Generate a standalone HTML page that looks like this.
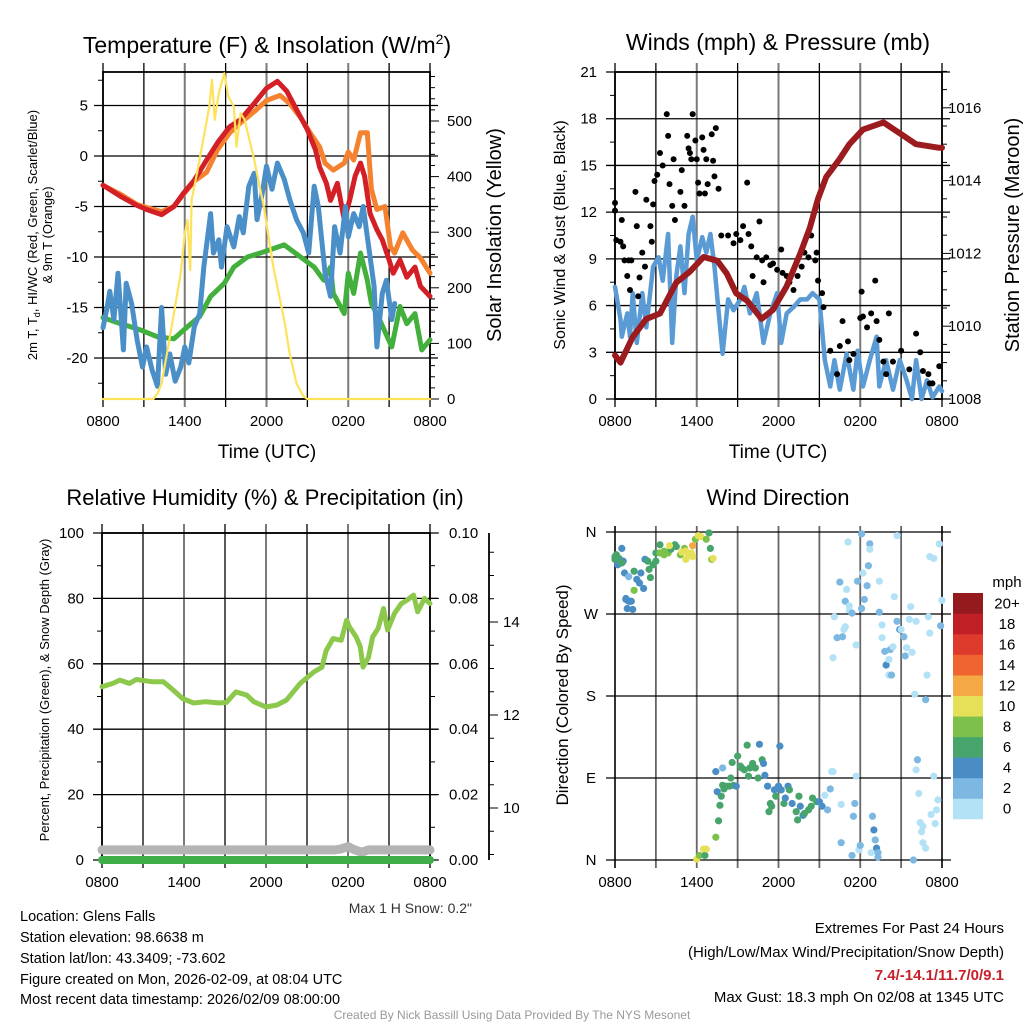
<!DOCTYPE html>
<html><head><meta charset="utf-8"><style>
html,body{margin:0;padding:0;background:#fff;}
svg{display:block;font-family:"Liberation Sans",Arial,sans-serif;}
</style></head><body>
<svg id="fig" width="1024" height="1024" viewBox="0 0 1024 1024" xmlns="http://www.w3.org/2000/svg">
<rect width="1024" height="1024" fill="#fff"/>
<g id="p1"></g>
<g id="p2"></g>
<g id="p3"></g>
<g id="p4"></g>
<text x="267" y="53" font-size="23" text-anchor="middle">Temperature (F) &amp; Insolation (W/m<tspan dy="-9" font-size="14">2</tspan><tspan dy="9">)</tspan></text>
<text x="778" y="50" font-size="23" text-anchor="middle">Winds (mph) &amp; Pressure (mb)</text>
<text x="265" y="505" font-size="22" text-anchor="middle">Relative Humidity (%) &amp; Precipitation (in)</text>
<text x="778" y="505" font-size="22" text-anchor="middle">Wind Direction</text>
<text x="267" y="458" font-size="19" text-anchor="middle">Time (UTC)</text>
<text x="778" y="458" font-size="19" text-anchor="middle">Time (UTC)</text>
<g transform="translate(37,235) rotate(-90)" font-size="13" text-anchor="middle">
<text x="0" y="0">2m T, T<tspan dy="3" font-size="9">d</tspan><tspan dy="-3">, HI/WC (Red, Green, Scarlet/Blue)</tspan></text>
<text x="0" y="15">&amp; 9m T (Orange)</text></g>
<text transform="translate(501,235) rotate(-90)" font-size="20" text-anchor="middle">Solar Insolation (Yellow)</text>
<text transform="translate(565,235) rotate(-90)" font-size="16" text-anchor="middle">Sonic Wind &amp; Gust (Blue, Black)</text>
<text transform="translate(1019,235) rotate(-90)" font-size="20" text-anchor="middle">Station Pressure (Maroon)</text>
<text transform="translate(49,690) rotate(-90)" font-size="13" text-anchor="middle">Percent, Precipitation (Green), &amp; Snow Depth (Gray)</text>
<text transform="translate(568,695) rotate(-90)" font-size="17" text-anchor="middle">Direction (Colored By Speed)</text>
<text x="472" y="913" font-size="14" fill="#333" text-anchor="end">Max 1 H Snow: 0.2"</text>
<g font-size="14.5">
<text x="20" y="921">Location: Glens Falls</text>
<text x="20" y="942">Station elevation: 98.6638 m</text>
<text x="20" y="963">Station lat/lon: 43.3409; -73.602</text>
<text x="20" y="984">Figure created on Mon, 2026-02-09, at 08:04 UTC</text>
<text x="20" y="1004">Most recent data timestamp: 2026/02/09 08:00:00</text>
</g>
<g font-size="15" text-anchor="end">
<text x="1004" y="933">Extremes For Past 24 Hours</text>
<text x="1004" y="957">(High/Low/Max Wind/Precipitation/Snow Depth)</text>
<text x="1004" y="980" fill="#c8202a" font-weight="bold">7.4/-14.1/11.7/0/9.1</text>
<text x="1004" y="1002">Max Gust: 18.3 mph On 02/08 at 1345 UTC</text>
</g>
<text x="512" y="1019" font-size="12" fill="#999" text-anchor="middle">Created By Nick Bassill Using Data Provided By The NYS Mesonet</text>
</svg>
<script>
// ---------- data ----------
const timeLabels = ["0800","1400","2000","0200","0800"];
const tempTicks = [5,0,-5,-10,-15,-20];
const solarTicks = [0,100,200,300,400,500];
const windTicks = [0,3,6,9,12,15,18,21];
const presTicks = [1008,1010,1012,1014,1016];
const rhTicks = [0,20,40,60,80,100];
const precipTicks = ["0.00","0.02","0.04","0.06","0.08","0.10"];
const snowTicks = [10,12,14];
const dirLabels = ["N","E","S","W","N"];
const speedLabels = ["0","2","4","6","8","10","12","14","16","18","20+"];

const tHours = [0,1.3,2.5,3.2,4.3,5.2,5.9,6.7,7.6,8.4,9.3,10.1,11.1,12.0,12.8,13.5,14.2,15.0,15.6,15.9,16.4,16.7,17.2,17.7,18.1,18.5,18.9,19.2,19.6,20.1,20.5,21,21.3,21.8,22.3,22.9,23.3,24];
const tempT = [-2.9,-4.0,-4.9,-5.3,-5.8,-5.0,-3.7,-2.4,-0.4,1.3,2.9,3.6,5.2,6.7,7.4,6.4,4.6,2.6,0.6,-1.1,-2.7,-4.4,-2.7,-6.3,-4.4,-2.0,-0.7,-2.0,-5.7,-7.3,-8.3,-10.3,-11.6,-10.3,-12.0,-11.0,-12.9,-13.9];
const t9Hours = [0,1.3,2.5,3.2,4.3,5.2,5.9,6.7,7.6,8.4,9.3,10.1,11.1,12,13,13.7,14.5,15.2,15.9,16.3,16.9,17.7,18,18.4,18.9,19.4,19.7,20.1,20.7,21.1,21.4,22,22.7,23.3,24];
const temp9m = [-2.9,-3.8,-4.8,-5.1,-5.5,-5.0,-3.8,-2.5,-1.6,0.6,2.3,3.3,4.4,5.5,6.0,5.2,3.8,2.3,0.9,-0.7,-1.4,-0.7,0.4,-0.4,2.3,2.3,-3.3,-5.3,-5.0,-9.0,-9.6,-7.6,-9.3,-10.1,-11.6];
const tdHours = [0,1.3,2.7,4,5.2,6.2,7.1,7.9,8.9,9.6,10.6,11.8,13.3,14.5,15.5,16.2,16.7,16.9,17.7,18,18.4,18.9,19.4,19.7,20.3,21.2,21.8,22.3,22.9,23.4,24];
const dewpoint = [-16,-16.6,-17.2,-17.9,-18.1,-16.9,-15.9,-13.9,-12.6,-11,-10,-9.5,-8.8,-10,-11,-12.3,-11,-13.6,-15.6,-11.6,-13.6,-9.6,-12.3,-14.6,-16.2,-18.9,-14.9,-16.6,-15.6,-19.2,-18.2];
const wcHours = [0,0.3,0.5,0.8,1.1,1.5,1.7,2.1,2.5,2.9,3.2,3.6,4.0,4.3,4.6,4.9,5.3,5.7,6.0,6.3,6.7,7.1,7.4,7.9,8.1,8.5,8.7,9.1,9.6,10.0,10.3,10.7,11.1,11.3,11.7,12.0,12.4,12.8,13.3,13.7,14.2,14.7,15.1,15.5,15.8,16.3,16.7,17.0,17.4,17.8,18.0,18.4,18.8,19.1,19.5,19.9,20.1,20.5,20.8,21.2,21.4];
const windChill = [-17,-15,-13.4,-16.2,-11.6,-19.2,-12.6,-14.6,-18.2,-20.9,-18.9,-21.2,-22.8,-15,-21.6,-19.6,-22.3,-20.9,-18.9,-20.5,-16.9,-15.6,-11,-5.7,-9.6,-8.3,-11,-7,-9,-6,-7.6,-3,-1.7,-6.3,-3.6,-1,-3.3,-0.7,-2.3,-4.3,-6.3,-7.6,-9.6,-3,-5,-11.6,-13.9,-7,-9.6,-5,-8,-5.7,-7,-5,-9,-12.9,-18.9,-13.6,-12.3,-16.2,-14.6];
const solHours = [0,3.7,4.0,4.3,4.7,5.2,5.7,6.0,6.2,6.4,6.5,6.9,7.4,7.8,8.0,8.2,8.5,8.9,9.2,9.6,9.8,10.1,10.4,11.1,11.8,12.5,13.3,13.7,14.2,14.7,15,24];
const solar = [0,0,10,28,82,154,226,298,322,232,358,406,472,526,574,502,550,586,544,526,454,514,502,430,346,238,142,82,28,5,0,0];

const presHours = [0,0.4,1.3,2.3,3.3,4.5,5.5,6.5,7.5,8.2,8.9,9.7,10.75,11.6,12.6,13.6,14.3,14.9,15.5,16.5,17.2,18.2,19.7,20.9,22.1,23.8,24];
const pressure = [1009.2,1009.0,1009.7,1010.2,1010.35,1011.2,1011.5,1011.9,1011.8,1011.45,1010.9,1010.7,1010.2,1010.45,1011.1,1012.0,1012.7,1013.5,1014.1,1014.6,1015.0,1015.4,1015.6,1015.3,1015.0,1014.9,1014.9];
const windHours = [0,0.4,0.5,0.9,1.1,1.3,1.6,2.0,2.3,2.8,3.2,3.5,3.9,4.2,4.5,4.8,5.1,5.4,5.7,6.0,6.4,6.7,7.0,7.3,7.6,7.9,8.3,8.7,9.2,9.5,9.9,10.4,10.9,11.4,11.9,12.2,12.6,13.1,13.6,14.1,14.5,15.0,15.4,15.8,16.1,16.5,17.0,17.5,17.8,18.2,18.7,19.2,19.4,19.9,20.4,20.9,21.4,21.8,22.1,22.5,22.9,23.3,23.8,24];
const windSpeed = [7.2,5.1,4.0,5.5,4.0,6.8,3.6,6.8,4.6,8.5,9.1,7.6,10.6,3.6,7.9,9.8,6.8,10.6,11.7,8.9,10.4,9.4,10.6,8.5,5.7,2.9,6.4,5.7,6.4,7.2,5.5,6.8,3.6,5.5,6.8,3.6,5.5,5.9,6.4,6.4,6.8,6.4,2.5,0.8,2.5,0.6,2.9,0.6,3.1,0.8,2.5,4.0,0.8,2.5,0.6,2.5,1.2,0,2.5,0,1.2,0.1,0.8,0.5];
const gustHours = [0,0,0.5,0.1,0.4,0.6,0.7,1.0,1.2,0.9,1.1,1.5,1.6,1.7,1.8,2.0,2.2,2.3,2.6,2.7,2.8,2.9,3.1,3.3,3.5,3.8,3.9,4.0,4.2,4.3,4.4,4.8,4.9,5.1,5.3,5.4,5.5,5.6,5.7,5.9,6.0,6.1,6.2,6.4,6.5,6.6,6.7,6.8,7.1,7.2,7.3,7.4,7.6,7.8,8.3,8.7,8.9,9.2,9.4,9.7,9.8,10.0,10.1,10.4,10.6,10.8,10.9,11.1,11.4,11.6,11.9,12.2,12.3,12.6,12.8,13.1,13.4,13.7,13.9,14.2,14.4,14.7,14.8,14.9,15.2,15.3,15.8,16.5,16.7,17.1,17.5,18.0,18.1,18.2,18.5,18.8,19.1,19.2,19.4,19.7,20.1,20.4,21.0,22.1,22.4,22.6,23.0,23.3,23.8,16.3,17.2,19.9,21.6,23.1];
const gustSpeed = [12.6,12.1,11.5,10.2,10.1,9.8,8.9,8.9,8.9,7.9,7.0,13.3,11.1,6.6,7.8,9.4,8.5,12.8,11.1,10.1,12.5,14.0,14.4,15.8,15.0,18.3,16.9,13.8,12.4,15.4,11.5,13.3,14.7,12.4,16.9,16.1,15.8,15.4,18.3,16.6,15.4,13.9,13.2,16.8,16.0,13.2,15.4,13.8,17.0,15.3,14.3,17.4,13.5,10.5,10.5,10.0,10.6,10.2,11.1,13.9,10.6,9.8,7.9,9.1,11.4,8.9,7.5,9.1,8.6,8.7,8.3,9.6,8.1,7.9,7.5,7.0,7.9,8.5,9.4,9.1,10.5,8.9,9.4,7.6,6.8,5.9,3.1,3.4,5.0,3.7,2.9,5.2,6.9,5.3,4.6,5.5,7.6,5.0,3.8,2.4,5.5,2.4,3.1,4.2,3.0,1.8,1.6,1.0,2.1,1.6,2.5,1.6,1.9,1.0];

const rhHours = [0,0.8,1.3,2.0,2.5,3.7,4.5,5.2,5.9,6.7,7.6,8.6,9.1,9.8,10.6,11.1,12.0,12.8,13.5,14.5,15.5,16.1,16.4,16.9,17.5,17.9,18.1,18.6,18.9,19.1,19.5,19.8,20.2,20.6,20.9,21.4,21.9,22.3,22.8,23.1,23.6,24.0];
const relHum = [53,54,55,54,55.2,54.5,54.5,52,49.4,48,48.4,48,48.2,51.4,50.4,48.4,46.8,47.4,48.9,54,57.5,59,64,67.7,67.2,73.3,71.3,68.2,65.2,59,62,68.2,70.8,76.9,70.3,75.4,78.4,79.4,81,75.9,80,78.4];
const precipHours = [0,24];
const precip = [0,0];
const snowHours = [0,6,12,17,17.5,18,18.5,19,19.5,20,24];
const snowDepth = [9.1,9.1,9.1,9.1,9.12,9.17,9.1,9.05,9.1,9.1,9.1];

const dirHours = [0.0,0.1,0.3,0.2,0.6,0.5,0.7,1.0,1.4,1.4,1.6,1.8,2.1,1.9,2.2,2.4,2.5,2.6,2.8,3.0,0.8,1.0,1.1,1.2,0.9,1.3,0.8,0.5,0.0,
3.0,3.3,3.6,3.9,4.1,4.4,4.5,4.8,5.1,5.2,5.4,5.6,5.7,4.0,5.7,5.9,6.1,6.3,6.7,6.9,7.0,7.1,7.2,4.9,5.2,3.6,3.3,
6.0,6.2,6.5,6.6,6.7,7.4,7.6,7.7,7.8,8.0,7.5,7.4,7.9,7.9,8.2,8.4,8.5,8.7,8.9,8.6,9.0,9.2,9.3,9.5,9.7,9.8,9.9,10.1,10.3,10.5,10.6,10.8,10.9,11.0,11.2,11.4,11.3,11.5,11.7,11.8,12.0,12.1,12.2,12.4,12.5,12.7,12.8,13.0,13.3,13.4,13.5,13.6,13.8,13.9,14.2,14.4,14.5,14.8,15.0,15.2,15.4,15.6,15.8,15.9,
16.0,16.1,16.3,16.5,16.7,16.8,16.9,17.0,17.1,16.9,17.2,17.2,17.4,17.7,17.8,18.1,18.1,18.2,18.3,18.5,18.6,18.7,18.7,19.4,19.4,19.6,19.6,19.8,19.9,20.1,20.1,20.3,20.2,20.4,20.5,20.7,20.7,20.9,21.0,21.2,21.3,21.4,21.6,21.7,21.8,22.0,22.1,22.9,22.8,23.0,23.1,23.1,23.4,23.8,24.0,23.9,
16.0,16.6,16.6,17.4,17.5,17.6,17.7,17.9,18.0,18.9,19.0,19.1,19.2,19.3,19.3,18.8,21.9,22.1,22.2,22.3,22.4,22.5,22.6,22.6,22.8,23.2,23.4,23.5,23.6,23.7];
const dirDeg = [333,335,331,324,328,342,315,311,317,296,308,304,298,315,330,328,319,310,324,328,287,284,284,284,276,275,286,326,330,
337,346,335,337,341,346,344,335,342,330,335,337,333,345,345,352,356,355,352,359,342,330,331,338,339,339,337,
1,5,12,5,12,25,43,60,70,78,75,97,101,82,81,81,90,82,81,107,114,103,101,99,126,92,101,106,101,90,127,110,106,93,81,62,53,59,77,70,81,125,77,62,68,81,77,62,53,44,70,59,49,51,55,59,68,64,64,59,71,55,78,97,
222,267,244,305,245,253,256,297,349,284,279,274,271,236,306,358,276,315,286,301,323,347,341,306,272,258,244,229,214,220,203,203,231,234,289,356,262,253,253,245,224,233,264,278,228,182,262,203,176,267,249,333,331,347,285,257,
97,61,19,5,48,62,92,11,16,48,33,22,13,3,8,8,0,99,110,73,41,31,37,19,13,50,92,40,55,66];
const dirSpeed = [6,6,6,5,4,4,4,3,6,8,4,4,4,4,4,6,6,6,6,6,4,4,4,4,4,4,4,6,6,
7,7,8,8,7,6,7,8,8,10,10,10,10,10,13,8,10,10,8,7,7,8,10,10,10,8,8,
10,8,10,7,10,8,6,6,6,6,4,4,2,6,6,6,6,6,4,6,6,6,6,6,6,6,6,6,6,6,4,6,4,4,4,6,6,6,4,6,4,4,4,6,4,4,6,4,6,6,6,4,4,6,6,6,6,6,4,4,1,2,2,
1,1,1,3,3,3,1,1,1,1,3,1,1,3,1,2,3,2,1,3,2,2,2,1,1,3,1,1,3,4,1,1,3,3,1,1,1,2,4,1,3,3,1,1,1,1,1,1,1,2,1,1,1,1,1,1,
2,1,1,2,3,3,3,1,1,3,3,4,3,4,3,3,1,2,1,3,1,1,1,1,1,1,1,1,1,1];
const speedColors = ["#b3e1f6","#7cb8e1","#4a8dc5","#47a56c","#7dc14a","#e6df58","#f5a945","#ef6430","#de3a2c","#c01f25","#941a1d"];

// ---------- helpers ----------
const NS="http://www.w3.org/2000/svg";
function mk(parent,tag,attrs){const e=document.createElementNS(NS,tag);for(const k in attrs)e.setAttribute(k,attrs[k]);parent.appendChild(e);return e;}
function txt(parent,x,y,s,size,anchor,fill){const e=mk(parent,"text",{x:x,y:y,"font-size":size,"text-anchor":anchor||"middle",fill:fill||"#000"});e.textContent=s;return e;}
function pathFrom(xs,ys,fx,fy){let d="";const n=Math.min(xs.length,ys.length);for(let i=0;i<n;i++){d+=(i?"L":"M")+fx(xs[i]).toFixed(1)+","+fy(ys[i]).toFixed(1);}return d;}

function frame(g,x0,x1,y0,y1,hLines,name){
  for(let k=0;k<=8;k++){
    const x=x0+(x1-x0)*k/8;
    const ln=mk(g,"line",{x1:x,x2:x,y1:y0-9,y2:y1+8,stroke:(k%2===0&&k>0&&k<8)?"#7a7a7a":"#000","stroke-width":(k%2===0&&k>0&&k<8)?2:1.3});
    
    
  }
  hLines.forEach(y=>{
    const ln=mk(g,"line",{x1:x0-9,x2:x1+8,y1:y,y2:y,stroke:"#000","stroke-width":1.3});
    
    
  });
  const b=mk(g,"rect",{x:x0,y:y0,width:x1-x0,height:y1-y0,fill:"none",stroke:"#000","stroke-width":1.8});
  
  
  timeLabels.forEach((s,i)=>{
    const t=txt(g,x0+(x1-x0)*i/4,y1+27,s,15);
    
    
  });
}
function series(g,xs,ys,fx,fy,color,w,name){
  const p=mk(g,"path",{d:pathFrom(xs,ys,fx,fy),fill:"none",stroke:color,"stroke-width":w,"stroke-linejoin":"round","stroke-linecap":"round"});
  
  
  return p;
}

// ---------- panel 1 ----------
(function(){
  const g=document.getElementById("p1");
  const x0=103,x1=430,y0=72,y1=399;
  const X=h=>x0+(x1-x0)*h/24, Y=v=>156-v*10.1, YS=w=>399-w*0.556;
  frame(g,x0,x1,y0,y1,tempTicks.map(Y),"p1");
  tempTicks.forEach(v=>{const t=txt(g,88,Y(v)+5,String(v),15,"end");});
  for(let w=0;w<=580;w+=20){const y=YS(w);mk(g,"line",{x1:x1,x2:x1+(w%100===0?9:5),y1:y,y2:y,stroke:"#000","stroke-width":1});}
  solarTicks.forEach(w=>{const t=txt(g,447,YS(w)+5,String(w),15,"start");});
  for(let v=-22.5;v<=7.5;v+=2.5){mk(g,"line",{x1:x0-5,x2:x0,y1:Y(v),y2:Y(v),stroke:"#000","stroke-width":1});}
  series(g,tdHours,dewpoint,X,Y,"#43b03d",5,"dewpoint-line");
  series(g,t9Hours,temp9m,X,Y,"#f5822f",5,"temp-9m-line");
  series(g,tHours,tempT,X,Y,"#d31f26",5,"temp-2m-line");
  series(g,wcHours,windChill,X,Y,"#4a8fc8",5,"wind-chill-line");
  series(g,solHours,solar,X,YS,"#fde25a",2.2,"solar-insolation-line");
})();

// ---------- panel 2 ----------
(function(){
  const g=document.getElementById("p2");
  const x0=615,x1=942,y0=72,y1=399;
  const X=h=>x0+(x1-x0)*h/24, Y=v=>399-v*15.57, YP=p=>399-(p-1008)*36.4;
  frame(g,x0,x1,y0,y1,windTicks.map(Y),"p2");
  windTicks.forEach(v=>{const t=txt(g,597,Y(v)+5,String(v),15,"end");});
  for(let v=1.5;v<21;v+=3){mk(g,"line",{x1:x0-5,x2:x0,y1:Y(v),y2:Y(v),stroke:"#000","stroke-width":1});}
  for(let p=1008;p<=1017;p+=0.5){const y=YP(p);mk(g,"line",{x1:x1,x2:x1+(p%2===0?9:5),y1:y,y2:y,stroke:"#000","stroke-width":1});}
  presTicks.forEach(p=>{const t=txt(g,948,YP(p)+5,String(p),15,"start");});
  series(g,windHours,windSpeed,X,Y,"#5a9bd5",4.5,"sonic-wind-line");
  gustHours.forEach((h,i)=>{
    if(gustSpeed[i]===undefined)return;
    const c=mk(g,"circle",{cx:X(h),cy:Y(gustSpeed[i]),r:3,fill:"#000"});
    
    
  });
  series(g,presHours,pressure,X,YP,"#9b1b1e",6,"pressure-line");
})();

// ---------- panel 3 ----------
(function(){
  const g=document.getElementById("p3");
  const x0=102,x1=430,y0=533,y1=860;
  const X=h=>x0+(x1-x0)*h/24, Y=v=>860-v*3.27, YS=s=>808-(s-10)*46.5, YPr=p=>860-p*3270;
  frame(g,x0,x1,y0,y1,rhTicks.map(Y),"p3");
  rhTicks.forEach(v=>{const t=txt(g,84,Y(v)+5,String(v),15,"end");});
  for(let v=10;v<100;v+=20){mk(g,"line",{x1:x0-5,x2:x0,y1:Y(v),y2:Y(v),stroke:"#000","stroke-width":1});}
  for(let v=0;v<=100;v+=10){mk(g,"line",{x1:x1,x2:x1+(v%20===0?9:5),y1:Y(v),y2:Y(v),stroke:"#000","stroke-width":1});}
  precipTicks.forEach((s,i)=>{const t=txt(g,449,Y(i*20)+5,s,15,"start");});
  const ax=mk(g,"line",{x1:489,x2:489,y1:y0,y2:y1,stroke:"#000","stroke-width":1.8});
  
  for(let s=8;s<=16;s+=0.5){const y=YS(s);if(y<y0||y>y1)continue;mk(g,"line",{x1:489,x2:489+(s%2===0?9:5),y1:y,y2:y,stroke:"#000","stroke-width":1});}
  snowTicks.forEach(s=>{const t=txt(g,503,YS(s)+5,String(s),15,"start");});
  series(g,snowHours,snowDepth,X,YS,"#b4b4b4",9,"snow-depth-line");
  series(g,precipHours,precip,X,YPr,"#3fae49",8,"precipitation-line");
  series(g,rhHours,relHum,X,Y,"#8cc84b",5,"relative-humidity-line");
})();

// ---------- panel 4 ----------
(function(){
  const g=document.getElementById("p4");
  const x0=615,x1=942,y0=532,y1=860;
  const X=h=>x0+(x1-x0)*h/24, Y=d=>860-d*0.9111;
  for(let k=0;k<=8;k++){const x=x0+(x1-x0)*k/8;const ln=mk(g,"line",{x1:x,x2:x,y1:y0-6,y2:y1+8,stroke:(k===0||k===8)?"#000":"#666","stroke-width":(k===0||k===8)?1.6:1.8});}
  dirLabels.forEach((s,i)=>{
    const y=Y(i*90);
    const ln=mk(g,"line",{x1:x0-9,x2:x1+9,y1:y,y2:y,stroke:"#000","stroke-width":1.3});
    
    const t=txt(g,591,y+5,s,15);
  });
  timeLabels.forEach((s,i)=>{const t=txt(g,x0+(x1-x0)*i/4,887,s,15);});
  dirHours.forEach((h,i)=>{
    if(dirDeg[i]===undefined)return;
    const sp=(dirSpeed[i]===undefined)?1:dirSpeed[i];
    const ci=Math.min(10,Math.floor(sp/2));
    const c=mk(g,"circle",{cx:X(h),cy:Y(dirDeg[i]),r:3.6,fill:speedColors[ci]});
    
    
  });
  const cb=mk(g,"g",{});
  
  
  const bh=(819-593)/11;
  speedLabels.forEach((s,i)=>{
    const y=819-(i+1)*bh;
    const r=mk(cb,"rect",{x:953,y:y,width:30,height:bh+0.3,fill:speedColors[i]});
    
    const t=txt(cb,1007,y+bh/2+5,s,15);
  });
  const m=txt(cb,1007,587,"mph",15);
})();
</script>
</body></html>
